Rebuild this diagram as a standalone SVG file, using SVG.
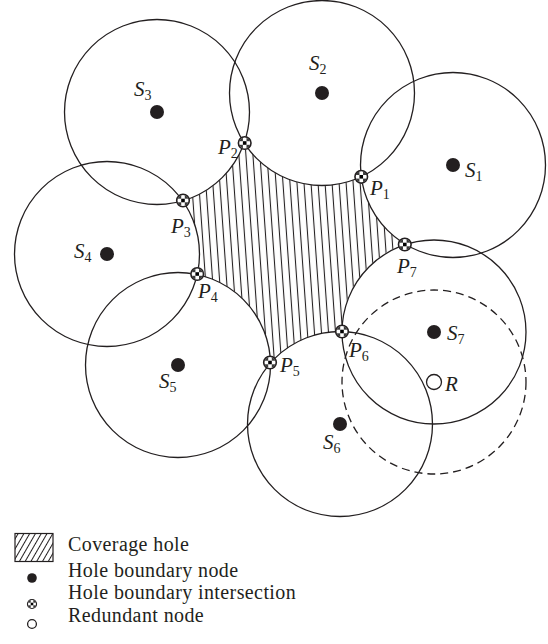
<svg xmlns="http://www.w3.org/2000/svg" xmlns:xlink="http://www.w3.org/1999/xlink" width="548" height="644" viewBox="0 0 548 644">
<style>
.rng{fill:none;stroke:#231f20;stroke-width:1.3}
.dash{fill:none;stroke:#231f20;stroke-width:1.3;stroke-dasharray:8 5}
.dot{fill:#231f20}
.open{fill:#fff;stroke:#231f20;stroke-width:1.3}
.lbl{font-family:"Liberation Serif","Times New Roman",serif;font-size:21px;fill:#231f20}
.it{font-style:italic}
.sub{font-size:14px}
.leg{font-family:"Liberation Serif","Times New Roman",serif;font-size:20px;letter-spacing:0.4px;fill:#231f20}
</style>
<defs>
<pattern id="hatch" width="7" height="20" patternUnits="userSpaceOnUse" patternTransform="rotate(-4)">
<line x1="3.5" y1="-2" x2="3.5" y2="22" stroke="#231f20" stroke-width="1.1"/>
</pattern>
<pattern id="hatch2" width="5" height="10" patternUnits="userSpaceOnUse" patternTransform="rotate(30)">
<line x1="2.5" y1="-2" x2="2.5" y2="12" stroke="#231f20" stroke-width="1"/>
</pattern>
<clipPath id="pc"><circle cx="0" cy="0" r="5.6"/></clipPath>
<g id="pmark">
<circle cx="0" cy="0" r="6.5" fill="#fff"/>
<g clip-path="url(#pc)">
<rect x="-6" y="-6" width="4.2" height="4.2" fill="#3a3a3a"/>
<rect x="1.8" y="-6" width="4.2" height="4.2" fill="#3a3a3a"/>
<rect x="-6" y="1.8" width="4.2" height="4.2" fill="#3a3a3a"/>
<rect x="1.8" y="1.8" width="4.2" height="4.2" fill="#3a3a3a"/>
<rect x="-1.8" y="-1.8" width="3.6" height="3.6" fill="#000"/>
</g>
<circle cx="0" cy="0" r="6.3" fill="none" stroke="#231f20" stroke-width="1.6"/>
</g>
</defs>
<rect x="0" y="0" width="548" height="644" fill="#fff"/>

<g id="hole">
<path d="M244.2 143.0 A92.5 92.5 0 0 0 361.25 176.8 A92.5 92.5 0 0 0 405.1 244.1 A92.5 92.5 0 0 0 341.5 331.5 A92.5 92.5 0 0 0 270.5 363 A92.5 92.5 0 0 0 197.2 274.5 A92.5 92.5 0 0 0 182.7 200.9 A92.5 92.5 0 0 0 244.2 143.0 Z" fill="url(#hatch)" stroke="none"/>
</g>

<g id="connectors"></g>

<g id="S1"><circle class="rng" cx="453" cy="165" r="92.5"/><circle class="dot" cx="453" cy="165" r="7"/>
<text class="lbl" x="465" y="177"><tspan class="it">S</tspan><tspan class="sub" dy="4">1</tspan></text></g>
<g id="S2"><circle class="rng" cx="322" cy="93" r="92.5"/><circle class="dot" cx="322" cy="93" r="7"/>
<text class="lbl" x="309" y="70"><tspan class="it">S</tspan><tspan class="sub" dy="4">2</tspan></text></g>
<g id="S3"><circle class="rng" cx="157" cy="112" r="92.5"/><circle class="dot" cx="157" cy="112" r="7"/>
<text class="lbl" x="134" y="96"><tspan class="it">S</tspan><tspan class="sub" dy="4">3</tspan></text></g>
<g id="S4"><circle class="rng" cx="107" cy="254" r="92.5"/><circle class="dot" cx="107" cy="254" r="7"/>
<text class="lbl" x="74" y="258"><tspan class="it">S</tspan><tspan class="sub" dy="4">4</tspan></text></g>
<g id="S5"><circle class="rng" cx="178" cy="365" r="92.5"/><circle class="dot" cx="178" cy="365" r="7"/>
<text class="lbl" x="159" y="388"><tspan class="it">S</tspan><tspan class="sub" dy="4">5</tspan></text></g>
<g id="S6"><circle class="rng" cx="340" cy="424" r="92.5"/><circle class="dot" cx="340" cy="424" r="7"/>
<text class="lbl" x="323" y="449"><tspan class="it">S</tspan><tspan class="sub" dy="4">6</tspan></text></g>
<g id="S7"><circle class="rng" cx="434" cy="332" r="92"/><circle class="dot" cx="434" cy="332" r="7"/>
<text class="lbl" x="447" y="340"><tspan class="it">S</tspan><tspan class="sub" dy="4">7</tspan></text></g>
<g id="R"><circle class="dash" cx="434" cy="382" r="92"/><circle class="open" cx="434" cy="382" r="7.5"/>
<text class="lbl it" x="445" y="391">R</text></g>

<g id="P1"><use xlink:href="#pmark" href="#pmark" x="361.25" y="176.8"/>
<text class="lbl" x="370" y="195"><tspan class="it">P</tspan><tspan class="sub" dy="4">1</tspan></text></g>
<g id="P2"><use xlink:href="#pmark" href="#pmark" x="244.7" y="143"/>
<text class="lbl" x="218" y="154"><tspan class="it">P</tspan><tspan class="sub" dy="4">2</tspan></text></g>
<g id="P3"><use xlink:href="#pmark" href="#pmark" x="183" y="200.5"/>
<text class="lbl" x="171" y="233"><tspan class="it">P</tspan><tspan class="sub" dy="4">3</tspan></text></g>
<g id="P4"><use xlink:href="#pmark" href="#pmark" x="197.2" y="274"/>
<text class="lbl" x="198" y="298"><tspan class="it">P</tspan><tspan class="sub" dy="4">4</tspan></text></g>
<g id="P5"><use xlink:href="#pmark" href="#pmark" x="270" y="362.5"/>
<text class="lbl" x="280" y="372"><tspan class="it">P</tspan><tspan class="sub" dy="4">5</tspan></text></g>
<g id="P6"><use xlink:href="#pmark" href="#pmark" x="342" y="331.5"/>
<text class="lbl" x="349" y="357"><tspan class="it">P</tspan><tspan class="sub" dy="4">6</tspan></text></g>
<g id="P7"><use xlink:href="#pmark" href="#pmark" x="404.8" y="244.5"/>
<text class="lbl" x="397" y="273"><tspan class="it">P</tspan><tspan class="sub" dy="4">7</tspan></text></g>

<g id="legend">
<rect x="15" y="533.5" width="38" height="28" fill="url(#hatch2)" stroke="#231f20" stroke-width="1.2"/>
<text class="leg" x="68" y="550.5">Coverage hole</text>
<circle class="dot" cx="32" cy="578" r="4.8"/>
<text class="leg" x="68" y="577">Hole boundary node</text>
<use xlink:href="#pmark" href="#pmark" transform="translate(32 604) scale(0.72)"/>
<text class="leg" x="68" y="599.3">Hole boundary intersection</text>
<circle class="open" cx="32" cy="624" r="4.4" stroke-width="1.1"/>
<text class="leg" x="68" y="621.6">Redundant node</text>
</g>
</svg>
